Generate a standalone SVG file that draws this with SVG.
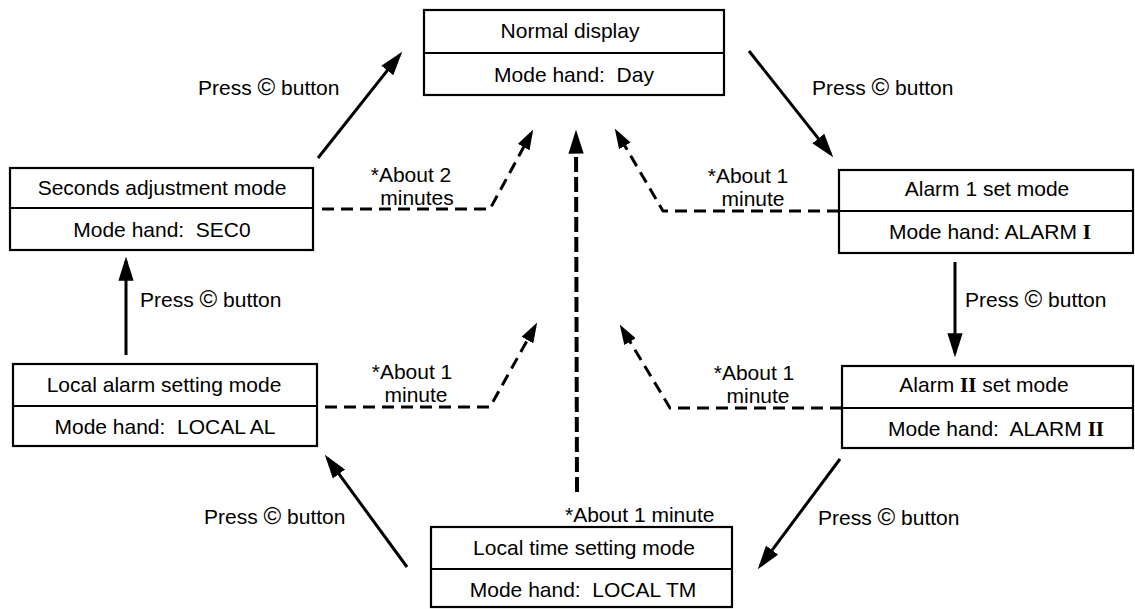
<svg xmlns="http://www.w3.org/2000/svg" width="1135" height="609" viewBox="0 0 1135 609">
<style>
  text { font-family: "Liberation Sans", Arial, sans-serif; font-size: 21px; fill: #000; white-space: pre; }
  .c { text-anchor: middle; }
  .cr { font-size: 24px; }
  .box { fill: #fff; stroke: #000; stroke-width: 2.2; }
  .div { stroke: #000; stroke-width: 2; }
  .solid { fill: none; stroke: #000; stroke-width: 3; marker-end: url(#ah); }
  .dash { fill: none; stroke: #000; stroke-width: 3; stroke-dasharray: 12 7; stroke-linejoin: round; marker-end: url(#ahs); }
  .dashc { fill: none; stroke: #000; stroke-width: 4; stroke-dasharray: 15 5; marker-end: url(#ah); }
  .rn { font-family: "Liberation Serif", "Times New Roman", serif; font-weight: bold; }
</style>
<defs>
  <marker id="ah" markerUnits="userSpaceOnUse" markerWidth="24" markerHeight="16" viewBox="0 0 22 14" refX="18" refY="7" orient="auto">
    <path d="M0,0 L22,7 L0,14 z" fill="#000"/>
  </marker>
  <marker id="ahs" markerUnits="userSpaceOnUse" markerWidth="20" markerHeight="14" viewBox="0 0 18 12" refX="14" refY="6" orient="auto">
    <path d="M0,0 L18,6 L0,12 z" fill="#000"/>
  </marker>
</defs>

<g id="connectors">
  <line class="solid" x1="318" y1="158" x2="399.5" y2="55.1"/>
  <line class="solid" x1="749" y1="51" x2="830.5" y2="153.9"/>
  <line class="solid" x1="955" y1="262" x2="955" y2="353"/>
  <line class="solid" x1="840" y1="459" x2="760.4" y2="565.8"/>
  <line class="solid" x1="407" y1="567" x2="327.4" y2="458.2"/>
  <line class="solid" x1="126" y1="355" x2="126" y2="261"/>
  <polyline class="dash" points="322,209 490,209 531.1,133.5"/>
  <polyline class="dash" points="839,211 663,211 617,132.4"/>
  <polyline class="dash" points="325,407 490,407 535,326.5"/>
  <polyline class="dash" points="842,408 670,408 622,328.4"/>
  <line class="dashc" x1="577" y1="492" x2="576" y2="134"/>
</g>

<g id="labels">
  <text x="198" y="95">Press <tspan class="cr">©</tspan> button</text>
  <text x="812" y="95">Press <tspan class="cr">©</tspan> button</text>
  <text x="140" y="307">Press <tspan class="cr">©</tspan> button</text>
  <text x="965" y="307">Press <tspan class="cr">©</tspan> button</text>
  <text x="204" y="524">Press <tspan class="cr">©</tspan> button</text>
  <text x="818" y="525">Press <tspan class="cr">©</tspan> button</text>
  <text class="c" x="411" y="182">*About 2</text>
  <text class="c" x="417" y="205">minutes</text>
  <text class="c" x="748" y="183">*About 1</text>
  <text class="c" x="753" y="206">minute</text>
  <text class="c" x="412" y="379">*About 1</text>
  <text class="c" x="416" y="402">minute</text>
  <text class="c" x="754" y="380">*About 1</text>
  <text class="c" x="758" y="403">minute</text>
  <text x="565" y="522">*About 1 minute</text>
</g>

<g id="normal-display">
  <rect class="box" x="424" y="10" width="300" height="85"/>
  <line class="div" x1="424" y1="53" x2="724" y2="53"/>
  <text class="c" x="570" y="38">Normal display</text>
  <text class="c" x="574" y="82">Mode hand:  Day</text>
</g>

<g id="seconds-adjustment">
  <rect class="box" x="10" y="168" width="303" height="82"/>
  <line class="div" x1="10" y1="208" x2="313" y2="208"/>
  <text class="c" x="162" y="195">Seconds adjustment mode</text>
  <text class="c" x="162" y="237">Mode hand:  SEC0</text>
</g>

<g id="local-alarm">
  <rect class="box" x="13" y="364" width="304" height="82"/>
  <line class="div" x1="13" y1="406" x2="317" y2="406"/>
  <text class="c" x="164" y="392">Local alarm setting mode</text>
  <text class="c" x="165" y="434">Mode hand:  LOCAL AL</text>
</g>

<g id="alarm-1">
  <rect class="box" x="839" y="170" width="294" height="83"/>
  <line class="div" x1="839" y1="211" x2="1133" y2="211"/>
  <text class="c" x="987" y="196">Alarm 1 set mode</text>
  <text class="c" x="990" y="239">Mode hand: ALARM <tspan class="rn">I</tspan></text>
</g>

<g id="alarm-2">
  <rect class="box" x="842" y="366" width="291" height="82"/>
  <line class="div" x1="842" y1="408" x2="1133" y2="408"/>
  <text class="c" x="984" y="392">Alarm <tspan class="rn">II</tspan> set mode</text>
  <text class="c" x="996" y="436">Mode hand:  ALARM <tspan class="rn">II</tspan></text>
</g>

<g id="local-time">
  <rect class="box" x="431" y="527" width="301" height="80"/>
  <line class="div" x1="431" y1="569" x2="732" y2="569"/>
  <text class="c" x="584" y="555">Local time setting mode</text>
  <text class="c" x="583" y="597">Mode hand:  LOCAL TM</text>
</g>
</svg>
